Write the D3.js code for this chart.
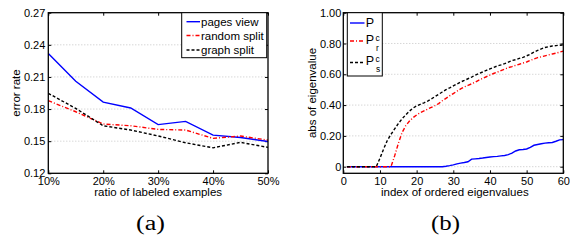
<!DOCTYPE html>
<html>
<head>
<meta charset="utf-8">
<script src="https://cdn.jsdelivr.net/npm/d3@7"></script>
<style>
  html, body { margin: 0; padding: 0; background: #fff; }
  svg { display: block; }
  text { font-family: "Liberation Sans", Arial, sans-serif; fill: #000; }
</style>
</head>
<body>
<svg id="chart" width="570" height="240"></svg>
<script>
// ---------- Data: panel (a) ----------
const ratioLabels = [10, 15, 20, 25, 30, 35, 40, 45, 50];
const pagesView   = [0.232, 0.206, 0.1865, 0.181, 0.1655, 0.1685, 0.1557, 0.1535, 0.1497];
const randomSplit = [0.1878, 0.1775, 0.166, 0.1644, 0.161, 0.1604, 0.1526, 0.1548, 0.151];
const graphSplit  = [0.1947, 0.1806, 0.1644, 0.1604, 0.1549, 0.1485, 0.1438, 0.1489, 0.1442];
const aXTicks = [10, 20, 30, 40, 50];
const aYTicks = [0.12, 0.15, 0.18, 0.21, 0.24, 0.27];

// ---------- Data: panel (b) ----------
const eigIndex = d3.range(1, 61);
const eigP = [0,0,0,0,0,0,0,0,0,0, 0,0,0,0,0,0,0,0,0,0, 0,0,0,0,0,0,0,
  0.003,0.007,0.012,0.018,0.023,0.027,0.032,0.049,0.051,0.053,0.056,0.06,0.063,
  0.065,0.067,0.07,0.073,0.078,0.088,0.102,0.110,0.112,0.115,0.126,0.139,0.144,
  0.149,0.153,0.155,0.157,0.165,0.174,0.176];
const eigPr = [0,0,0,0,0,0,0,0,0,0,0,0,0,
  0.07,0.15,0.22,0.265,0.295,0.318,0.336,0.35,0.362,0.374,0.385,0.396,0.41,0.428,
  0.444,0.46,0.475,0.49,0.505,0.518,0.528,0.538,0.549,0.562,0.573,0.584,0.595,
  0.605,0.614,0.624,0.634,0.643,0.650,0.658,0.665,0.673,0.680,0.690,0.700,0.708,
  0.714,0.720,0.726,0.732,0.737,0.744,0.750];
const eigPs = [0,0,0,0,0,0,0,0,0,
  0.055,0.115,0.17,0.21,0.245,0.28,0.31,0.336,0.36,0.38,0.395,0.405,0.415,0.426,
  0.44,0.455,0.47,0.485,0.5,0.512,0.525,0.537,0.55,0.56,0.571,0.582,0.595,0.605,
  0.615,0.625,0.635,0.645,0.654,0.661,0.669,0.679,0.689,0.695,0.703,0.71,0.72,
  0.73,0.744,0.755,0.765,0.774,0.779,0.784,0.786,0.789,0.791];
const bXTicks = [0, 10, 20, 30, 40, 50, 60];
const bYTicks = [0, 0.2, 0.4, 0.6, 0.8, 1.0];

const svg = d3.select("#chart");
svg.append("rect").attr("width", 570).attr("height", 240).attr("fill", "#fff");

function panel(cfg) {
  const g = svg.append("g");
  const [x0, x1] = cfg.x.range();
  const [y0, y1] = cfg.y.range(); // y0 bottom, y1 top

  // grid
  g.append("g").selectAll("line").data(cfg.yGrid).join("line")
    .attr("x1", x0).attr("x2", x1)
    .attr("y1", d => cfg.y(d)).attr("y2", d => cfg.y(d))
    .attr("stroke", "#b8b8b8").attr("stroke-width", 0.8)
    .attr("stroke-dasharray", "1,2");

  // axes (inward ticks on all four sides)
  const fs = "11px";
  const ax = g.append("g").attr("transform", `translate(0,${y0})`)
    .call(d3.axisBottom(cfg.x).tickValues(cfg.xTicks).tickFormat(cfg.xFmt)
      .tickSizeInner(-3).tickSizeOuter(0).tickPadding(4));
  const axT = g.append("g").attr("transform", `translate(0,${y1})`)
    .call(d3.axisTop(cfg.x).tickValues(cfg.xTicks).tickFormat("")
      .tickSizeInner(-3).tickSizeOuter(0));
  const ay = g.append("g").attr("transform", `translate(${x0},0)`)
    .call(d3.axisLeft(cfg.y).tickValues(cfg.yTicks).tickFormat(cfg.yFmt)
      .tickSizeInner(-3).tickSizeOuter(0).tickPadding(cfg.yPad));
  const ayR = g.append("g").attr("transform", `translate(${x1},0)`)
    .call(d3.axisRight(cfg.y).tickValues(cfg.yTicks).tickFormat("")
      .tickSizeInner(-3).tickSizeOuter(0));
  [ax, axT, ay, ayR].forEach(a => {
    a.select(".domain").remove();
    a.selectAll("line").attr("stroke", "#000").attr("stroke-width", 1);
    a.selectAll("text").style("font-size", fs).style("font-family", '"Liberation Sans", Arial, sans-serif');
  });

  // data lines
  cfg.series.forEach(s => {
    const line = d3.line().x((d, i) => cfg.x(cfg.xs[i])).y(d => cfg.y(d));
    g.append("path").datum(s.values)
      .attr("d", line)
      .attr("fill", "none")
      .attr("stroke", s.color)
      .attr("stroke-width", 1.4)
      .attr("stroke-dasharray", s.dash);
  });

  // box
  g.append("rect").attr("x", x0).attr("y", y1)
    .attr("width", x1 - x0).attr("height", y0 - y1)
    .attr("fill", "none").attr("stroke", "#000").attr("stroke-width", 1.3);

  // labels
  g.append("text").attr("x", (x0 + x1) / 2 + cfg.xLabelDx).attr("y", 196)
    .attr("text-anchor", "middle").style("font-size", "11.5px").text(cfg.xLabel);
  g.append("text")
    .attr("transform", `translate(${cfg.yLabelX},${(y0 + y1) / 2}) rotate(-90)`)
    .attr("text-anchor", "middle").style("font-size", "11.5px").text(cfg.yLabel);
  g.append("text").attr("x", cfg.captionX).attr("y", 230)
    .attr("text-anchor", "middle")
    .attr("textLength", 29).attr("lengthAdjust", "spacingAndGlyphs")
    .style("font-family", '"Liberation Serif", "Times New Roman", serif')
    .style("font-size", "20px").text(cfg.caption);
  return g;
}

// ---------- Panel (a) ----------
const xA = d3.scaleLinear().domain([10, 50]).range([48.3, 268]);
const yA = d3.scaleLinear().domain([0.12, 0.27]).range([173.3, 12.7]);
const seriesA = [
  { name: "pages view", values: pagesView, color: "#0000ff", dash: null },
  { name: "random split", values: randomSplit, color: "#ff0000", dash: "4,2,1,2" },
  { name: "graph split", values: graphSplit, color: "#000000", dash: "3,2" }
];
const gA = panel({
  x: xA, y: yA, xs: ratioLabels,
  xTicks: aXTicks, yTicks: aYTicks, yGrid: aYTicks.slice(1, -1),
  xFmt: d => d + "%", yFmt: d3.format(".2f"), yPad: 3,
  series: seriesA,
  xLabel: "ratio of labeled examples", xLabelDx: 0,
  yLabel: "error rate", yLabelX: 19.5,
  caption: "(a)", captionX: 150.5
});
// legend (a)
const legA = gA.append("g");
legA.append("rect").attr("x", 181.7).attr("y", 12.7).attr("width", 85).attr("height", 45)
  .attr("fill", "#fff").attr("stroke", "#000").attr("stroke-width", 1);
const legAY = [21.7, 35.5, 50];
seriesA.forEach((s, i) => {
  legA.append("line").attr("x1", 186.5).attr("x2", 200).attr("y1", legAY[i]).attr("y2", legAY[i])
    .attr("stroke", s.color).attr("stroke-width", 1.4).attr("stroke-dasharray", s.dash);
  legA.append("text").attr("x", 201).attr("y", legAY[i] + 4).style("font-size", "11.5px").text(s.name);
});

// ---------- Panel (b) ----------
const xB = d3.scaleLinear().domain([0, 60]).range([343.3, 563.3]);
const yB = d3.scaleLinear().domain([-0.043, 1.0]).range([173.3, 12.7]);
const seriesB = [
  { name: "P", sup: "", sub: "", values: eigP, color: "#0000ff", dash: null },
  { name: "P", sup: "c", sub: "r", values: eigPr, color: "#ff0000", dash: "4,2,1,2" },
  { name: "P", sup: "c", sub: "s", values: eigPs, color: "#000000", dash: "3,2" }
];
const gB = panel({
  x: xB, y: yB, xs: eigIndex,
  xTicks: bXTicks, yTicks: bYTicks, yGrid: bYTicks.slice(0, -1),
  xFmt: d3.format("d"), yFmt: d => d === 0 ? "0" : d3.format(".2f")(d), yPad: 2,
  series: seriesB,
  xLabel: "index of ordered eigenvalues", xLabelDx: 1.5,
  yLabel: "abs of eigenvalue", yLabelX: 316,
  caption: "(b)", captionX: 445.5
});
// legend (b)
const legB = gB.append("g");
legB.append("rect").attr("x", 347.3).attr("y", 12.7).attr("width", 35).attr("height", 63.3)
  .attr("fill", "#fff").attr("stroke", "#000").attr("stroke-width", 1);
const legBLine = [23, 41, 62.5];
const legBBase = [27.3, 44.3, 65.2];
seriesB.forEach((s, i) => {
  legB.append("line").attr("x1", 350).attr("x2", 364.5).attr("y1", legBLine[i]).attr("y2", legBLine[i])
    .attr("stroke", s.color).attr("stroke-width", 1.4).attr("stroke-dasharray", s.dash);
  legB.append("text").attr("x", 365.7).attr("y", legBBase[i]).style("font-size", "12.5px").text(s.name);
  if (s.sup) {
    legB.append("text").attr("x", 375.5).attr("y", legBBase[i] - 3.2).style("font-size", "8.5px").text(s.sup);
    legB.append("text").attr("x", 376).attr("y", legBBase[i] + 6.8).style("font-size", "8.5px").text(s.sub);
  }
});
</script>
</body>
</html>
